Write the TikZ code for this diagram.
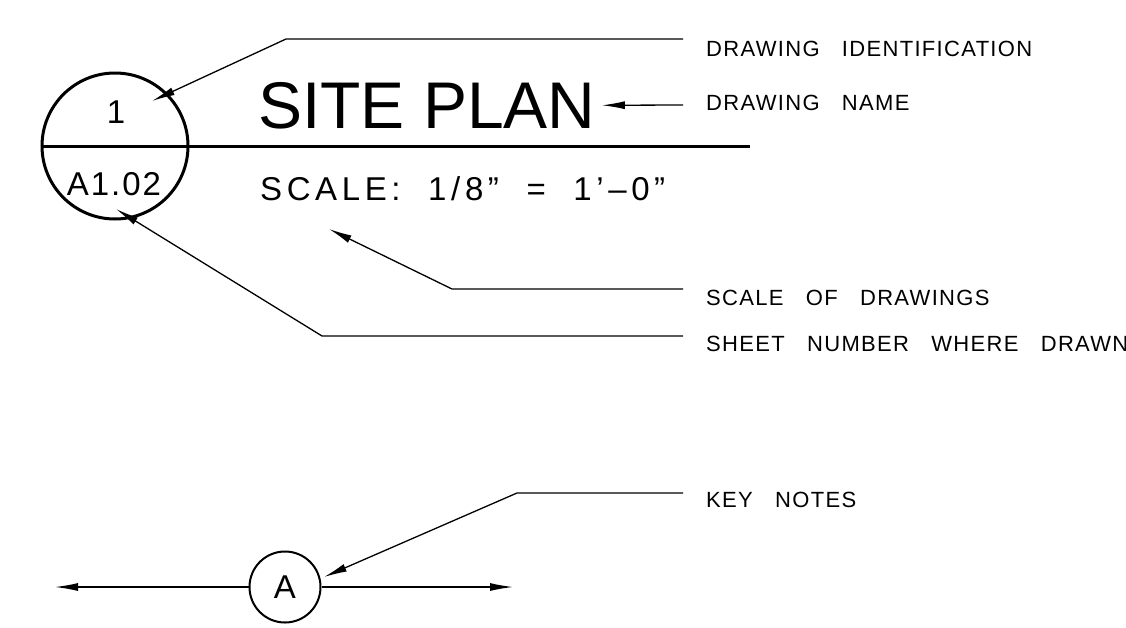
\documentclass[tikz,border=0pt]{standalone}
\usepackage{fontspec}
\setmainfont{Liberation Sans}
\newfontfamily\notefont{Liberation Sans}[LetterSpace=6]
\newfontfamily\scalefont{Liberation Sans}[LetterSpace=14]
\usetikzlibrary{arrows.meta}

\begin{document}
\begin{tikzpicture}[x=1pt, y=-1pt,
  leader/.style={line width=1.3pt, -{Latex[length=23pt,width=8pt]}},
  note/.style={anchor=base west, inner sep=0pt, font=\notefont\fontsize{22}{22}\selectfont},
  bubble/.style={circle, draw, inner sep=0pt}]
\useasboundingbox (0,0) rectangle (1126,627);
% drawing title bubble
\node[bubble, line width=3pt, minimum size=146pt] (C_0) at (115,146) {};
\node[anchor=base, inner sep=0pt, font=\notefont\fontsize{33}{33}\selectfont] (N_0) at (116,123) {1};
\node[anchor=base, inner sep=0pt, font=\notefont\fontsize{33}{33}\selectfont] (N_1) at (114,195) {A1.02};
\coordinate (R_0) at (750,146);
\draw[line width=3pt] (C_0.west) -- (R_0);
\node[anchor=base west, inner sep=0pt, inner xsep=6pt, font=\fontsize{66}{66}\selectfont] (T_0) at (252,128) {SITE PLAN};
\node[anchor=base west, inner sep=0pt, font=\scalefont\fontsize{33}{33}\selectfont] (T_1) at (260,200) {SCALE:~~1/8”~~=~~1’–0”};
% notes
\node[note] (L_0) at (706,56) {DRAWING~~~IDENTIFICATION};
\node[note] (L_1) at (706,110) {DRAWING~~~NAME};
\node[note] (L_2) at (706,305) {SCALE~~~OF~~~DRAWINGS};
\node[note] (L_3) at (706,351) {SHEET~~~NUMBER~~~WHERE~~~DRAWN};
\node[note] (L_4) at (706,507) {KEY~~~NOTES};
% leaders
\coordinate (E_0) at (683,39);
\coordinate (K_0) at (286,39);
\coordinate (P_0) at (152,101);
\draw[leader] (E_0) -- (K_0) -- (P_0);
\coordinate (E_1) at (683,105);
\draw[leader] (E_1) -- (T_0.east);
\coordinate (E_2) at (683,289);
\coordinate (K_2) at (452,289);
\coordinate (P_2) at (329,229);
\draw[leader] (E_2) -- (K_2) -- (P_2);
\coordinate (E_3) at (683,336);
\coordinate (K_3) at (322,336);
\coordinate (P_3) at (116,209);
\draw[leader] (E_3) -- (K_3) -- (P_3);
% key note bubble
\node[bubble, line width=2pt, minimum size=71pt, font=\notefont\fontsize{33}{33}\selectfont] (C_1) at (285,587) {A};
\coordinate (W_1) at (55,587);
\coordinate (X_1) at (513,587);
\draw[leader] (C_1.west) -- (W_1);
\draw[leader] (C_1.east) -- (X_1);
\coordinate (E_4) at (683,493);
\coordinate (K_4) at (517,493);
\coordinate (P_4) at (324,577);
\draw[leader] (E_4) -- (K_4) -- (P_4);
\end{tikzpicture}
\end{document}
